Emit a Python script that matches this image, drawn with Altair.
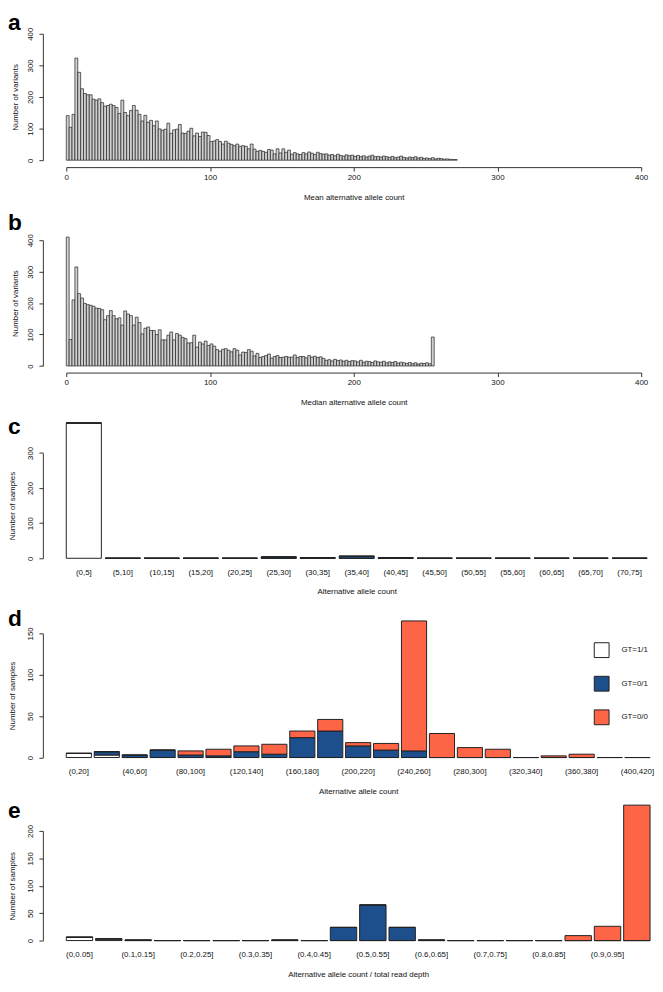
import altair as alt
import pandas as pd

FONT = "Liberation Sans"
W, H = 655, 984

# ---------------- data ----------------
# a: mean alternative allele count, bins of width 2 starting at 0
a_bin_width = 2
a_counts = [141, 104, 145, 323, 278, 226, 211, 207, 207, 193,
            190, 194, 182, 171, 173, 177, 173, 167, 148, 190,
            151, 141, 157, 173, 158, 145, 124, 142, 120, 126,
            109, 124, 99, 95, 98, 117, 85, 96, 98, 113,
            86, 85, 92, 101, 77, 86, 75, 89, 88, 78,
            59, 61, 65, 59, 51, 60, 54, 50, 46, 51,
            44, 46, 44, 36, 51, 35, 28, 31, 28, 25,
            34, 32, 20, 36, 23, 36, 25, 32, 19, 24,
            20, 18, 24, 20, 26, 22, 18, 25, 21, 19,
            20, 16, 18, 14, 19, 15, 13, 17, 14, 16,
            12, 15, 11, 14, 10, 13, 16, 11, 12, 10,
            13, 11, 9, 12, 8, 10, 13, 9, 7, 10,
            8, 11, 7, 9, 6, 7, 5, 8, 4, 6,
            5, 3, 4, 3, 2, 2]

# b: median alternative allele count, bins of width 2 starting at 0
b_bin_width = 2
b_counts = [410, 84, 210, 315, 230, 216, 199, 195, 193, 190,
            184, 183, 179, 147, 160, 176, 160, 150, 153, 130,
            175, 165, 160, 130, 155, 138, 102, 120, 124, 113,
            113, 100, 115, 83, 83, 98, 108, 83, 103, 98,
            91, 87, 73, 74, 98, 60, 76, 70, 79, 65,
            70, 63, 52, 47, 53, 55, 50, 45, 55, 50,
            35, 44, 43, 52, 47, 32, 40, 27, 30, 33,
            38, 25, 30, 33, 27, 28, 30, 28, 28, 35,
            27, 30, 30, 26, 33, 28, 31, 27, 29, 24,
            18, 20, 16, 21, 17, 19, 15, 18, 14, 17,
            16, 13, 18, 12, 15, 14, 11, 16, 13, 12,
            15, 10, 13, 11, 14, 9, 12, 10, 8, 11,
            7, 10, 6, 9, 8, 10, 7, 92]

gt_labels = ["GT=1/1", "GT=0/1", "GT=0/0"]
gt_colors = ["#ffffff", "#1d4f8c", "#fe6446"]

# c
c_categories = ["(0,5]", "(5,10]", "(10,15]", "(15,20]", "(20,25]", "(25,30]",
                "(30,35]", "(35,40]", "(40,45]", "(45,50]", "(50,55]", "(55,60]",
                "(60,65]", "(65,70]", "(70,75]"]
c_hom_alt = [385, 0, 0, 0, 0, 0, 0, 0, 0, 0, 0, 0, 0, 0, 0]
c_het = [0, 0, 0, 0, 0, 4, 2, 6, 2, 0, 0, 0, 0, 0, 0]
c_hom_ref = [0, 0, 0, 0, 0, 0, 0, 0, 0, 0, 0, 0, 0, 0, 0]

# d
d_categories = ["(0,20]", "(20,40]", "(40,60]", "(60,80]", "(80,100]", "(100,120]",
                "(120,140]", "(140,160]", "(160,180]", "(180,200]", "(200,220]",
                "(220,240]", "(240,260]", "(260,280]", "(280,300]", "(300,320]",
                "(320,340]", "(340,360]", "(360,380]", "(380,400]", "(400,420]"]
d_shown = ["(0,20]", "(40,60]", "(80,100]", "(120,140]", "(160,180]", "(200,220]",
           "(240,260]", "(280,300]", "(320,340]", "(360,380]", "(400,420]"]
d_hom_alt = [5, 3, 0, 0, 0, 0, 0, 0, 0, 0, 0, 0, 0, 0, 0, 0, 0, 0, 0, 0, 0]
d_het = [0, 4, 3, 9, 3, 2, 7, 4, 24, 32, 14, 9, 8, 0, 0, 0, 0, 0, 0, 0, 0]
d_hom_ref = [0, 0, 0, 0, 5, 8, 7, 12, 8, 14, 4, 8, 157, 29, 12, 10, 0, 2, 4, 0, 0]

# e
e_categories = ["(0,0.05]", "(0.05,0.1]", "(0.1,0.15]", "(0.15,0.2]", "(0.2,0.25]",
                "(0.25,0.3]", "(0.3,0.35]", "(0.35,0.4]", "(0.4,0.45]", "(0.45,0.5]",
                "(0.5,0.55]", "(0.55,0.6]", "(0.6,0.65]", "(0.65,0.7]", "(0.7,0.75]",
                "(0.75,0.8]", "(0.8,0.85]", "(0.85,0.9]", "(0.9,0.95]", "(0.95,1]"]
e_shown = ["(0,0.05]", "(0.1,0.15]", "(0.2,0.25]", "(0.3,0.35]", "(0.4,0.45]",
           "(0.5,0.55]", "(0.6,0.65]", "(0.7,0.75]", "(0.8,0.85]", "(0.9,0.95]"]
e_hom_alt = [6, 3, 0, 0, 0, 0, 0, 0, 0, 0, 0, 0, 0, 0, 0, 0, 0, 0, 0, 0]
e_het = [0, 0, 1, 0, 0, 0, 0, 1, 0, 24, 65, 24, 1, 0, 0, 0, 0, 0, 0, 0]
e_hom_ref = [0, 0, 0, 0, 0, 0, 0, 0, 0, 0, 0, 0, 0, 0, 0, 0, 0, 9, 26, 247]


def hist_df(counts, width):
    return pd.DataFrame({
        "start": [i * width for i in range(len(counts))],
        "end": [(i + 1) * width for i in range(len(counts))],
        "count": counts,
        "base": [0] * len(counts),
    })


def stack_df(cats, hom_alt, het, hom_ref):
    rows = []
    for i, c in enumerate(cats):
        for k, (lab, vals) in enumerate(zip(gt_labels, [hom_alt, het, hom_ref])):
            rows.append({"cat": c, "gt": lab, "ord": k, "n": vals[i]})
    return pd.DataFrame(rows)


def y_axis(values, title, axis_x, title_pad):
    return alt.Axis(orient="left", offset=-axis_x, values=values, title=title,
                    tickSize=4, labelAngle=270, labelAlign="center",
                    labelBaseline="bottom", labelPadding=4.3, titlePadding=title_pad,
                    grid=False, labelOverlap=False, labelFlush=False)


def hist_layer(df, title, x_rng, y_rng, axis_y):
    return alt.Chart(df).mark_bar(fill="#d0d0d0", stroke="#222222", strokeWidth=0.7).encode(
        x=alt.X("start:Q",
                scale=alt.Scale(domain=[0, 400], range=x_rng, nice=False, zero=False),
                axis=alt.Axis(orient="bottom", offset=axis_y - H, values=[0, 100, 200, 300, 400],
                              title=title, tickSize=4, labelPadding=2.5, titlePadding=12,
                              grid=False, labelFlush=False, labelOverlap=False)),
        x2="end:Q",
        y=alt.Y("count:Q",
                scale=alt.Scale(domain=[0, 400], range=y_rng, nice=False),
                axis=y_axis([0, 100, 200, 300, 400], "Number of variants", 35.3, 7)),
        y2="base:Q",
    )


legend_gt = alt.Legend(orient="none", legendX=593, legendY=636, title=None,
                       symbolType="square", symbolSize=225, symbolStrokeColor="#222222",
                       symbolStrokeWidth=1, symbolOpacity=1, labelFontSize=8,
                       labelOffset=12, rowPadding=14, padding=0, labelColor="#111111")


def stack_layer(df, cats, shown, x_rng, y_dom, y_rng, yvals, axis_y, xtitle, lab_pad):
    return alt.Chart(df).mark_bar(stroke="#222222", strokeWidth=1, opacity=1).encode(
        x=alt.X("cat:N", sort=cats,
                scale=alt.Scale(domain=cats, range=x_rng, paddingInner=0.1, paddingOuter=0),
                axis=alt.Axis(orient="bottom", offset=axis_y - H, values=shown,
                              title=xtitle, domain=False, ticks=False,
                              labelAngle=0, labelPadding=lab_pad, titlePadding=12,
                              grid=False, labelOverlap=False, labelFlush=False)),
        y=alt.Y("n:Q", stack="zero",
                scale=alt.Scale(domain=y_dom, range=y_rng, nice=False),
                axis=y_axis(yvals, "Number of samples", 35.3, 10.5)),
        color=alt.Color("gt:N",
                        scale=alt.Scale(domain=gt_labels, range=gt_colors),
                        legend=legend_gt),
        order=alt.Order("ord:Q"),
    )


pa = hist_layer(hist_df(a_counts, a_bin_width), "Mean alternative allele count",
                [59, 641], [148, 20], 155)
pb = hist_layer(hist_df(b_counts, b_bin_width), "Median alternative allele count",
                [59, 641], [356.3, 229], 363)

pc = stack_layer(stack_df(c_categories, c_hom_alt, c_het, c_hom_ref), c_categories, c_categories,
                 [59, 647], [0, 300], [551, 444.3], [0, 100, 200, 300], 551,
                 "Alternative allele count", 10)

pd_ = stack_layer(stack_df(d_categories, d_hom_alt, d_het, d_hom_ref), d_categories, d_shown,
                  [59, 650], [0, 150], [752.7, 627], [0, 50, 100, 150], 752.7,
                  "Alternative allele count", 10)

pe = stack_layer(stack_df(e_categories, e_hom_alt, e_het, e_hom_ref), e_categories, e_shown,
                 [59, 650], [0, 200], [938, 827], [0, 50, 100, 150, 200], 938,
                 "Alternative allele count / total read depth", 10.5)

panel_letters = ["a", "b", "c", "d", "e"]
letter_baselines = [16, 218.7, 425, 620, 814]
letters = [
    alt.Chart(pd.DataFrame({"t": [t]})).mark_text(
        fontSize=23, fontWeight="bold", font=FONT, align="left", baseline="alphabetic",
        color="#000000").encode(text="t:N", x=alt.value(0), y=alt.value(yb))
    for t, yb in zip(panel_letters, letter_baselines)
]

chart = alt.layer(pa, pb, pc, pd_, pe, *letters).resolve_scale(
    x="independent", y="independent", color="shared"
).properties(
    width=W, height=H, padding=0, autosize=alt.AutoSizeParams(type="none")
).configure(font=FONT).configure_view(stroke="transparent").configure_axis(
    labelFont=FONT, titleFont=FONT, labelFontSize=8, titleFontSize=8,
    titleFontWeight="normal", labelColor="#111111", titleColor="#111111",
    domainColor="#333333", tickColor="#333333", domainWidth=1, tickWidth=1
).configure_legend(labelFont=FONT)

chart.save("out.html", embed_options={"renderer": "svg", "actions": False})
